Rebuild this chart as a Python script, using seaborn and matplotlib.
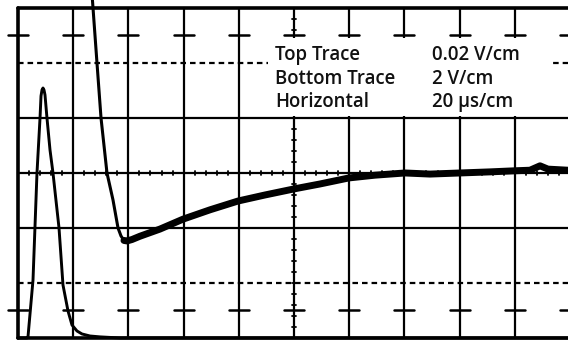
import numpy as np
import pandas as pd
import matplotlib
matplotlib.use("Agg")
import matplotlib.pyplot as plt
import seaborn as sns

# ---- data (graticule division units) ----
top_x = [1.322, 1.359, 1.431, 1.504, 1.612, 1.721, 1.812, 1.866, 1.920, 1.975, 2.065,
         2.210, 2.572, 2.989, 3.478, 3.986, 4.475, 5.000, 5.471, 5.996, 6.467, 7.011,
         7.464, 8.007, 8.551, 9.004, 9.275, 9.457, 9.601, 9.964]
top_y = [3.51, 3.00, 2.00, 1.00, 0.00, -0.49, -1.00, -1.145, -1.227, -1.236, -1.21,
         -1.15, -1.02, -0.84, -0.67, -0.51, -0.40, -0.29, -0.20, -0.09, -0.04, 0.00,
         -0.02, 0.00, 0.02, 0.04, 0.05, 0.13, 0.07, 0.05]

bot_x = [0.0, 0.163, 0.181, 0.272, 0.344, 0.399, 0.417, 0.435, 0.453, 0.471, 0.489,
         0.525, 0.580, 0.634, 0.743, 0.815, 0.906, 0.978, 1.069, 1.159, 1.304, 1.486,
         1.848, 9.964]
bot_y = [-3.0, -3.0, -2.98, -1.945, 0.0, 1.0, 1.40, 1.51, 1.545, 1.51, 1.42,
         1.0, 0.418, 0.0, -1.0, -2.036, -2.509, -2.764, -2.873, -2.927, -2.964, -2.98,
         -3.0, -3.0]

labels_left = ["Top Trace", "Bottom Trace", "Horizontal"]
labels_right = ["0.02 V/cm", "2 V/cm", "20 \u00b5s/cm"]

# ---- figure ----
sns.set_style("white")
plt.rcParams['font.family'] = ['Open Sans', 'DejaVu Sans']
fig = plt.figure(figsize=(5.68, 3.41), dpi=100)
ax = fig.add_axes([0, 0, 1, 1])

k = "black"
# graticule
for xv in range(0, 11):
    ax.plot([xv, xv], [-3, 3], color=k, lw=2.6 if xv == 0 else 1.6, zorder=1)
for yv in [-3, -1, 0, 1, 3]:
    ax.plot([0, 10], [yv, yv], color=k, lw=2.6 if abs(yv) == 3 else 1.6, zorder=1)
for yv in [-2, 2]:
    ax.plot([0, 10], [yv, yv], color=k, lw=1.6, ls=(0, (2.5, 1.8)), zorder=1)
for yv in [-2.5, 2.5]:
    for xv in range(0, 11):
        ax.plot([xv - 0.18, xv + 0.18], [yv, yv], color=k, lw=1.8, zorder=1)
for yv in np.arange(-3, 3.01, 0.2):
    ax.plot([4.96, 5.04], [yv, yv], color=k, lw=1.3, zorder=1)
for xv in np.arange(0, 10.01, 0.2):
    ax.plot([xv, xv], [-0.04, 0.04], color=k, lw=1.3, zorder=1)

# traces
imin = int(np.argmin(top_y))
df_fall = pd.DataFrame({"x": top_x[:imin + 1], "y": top_y[:imin + 1]})
df_ramp = pd.DataFrame({"x": top_x[imin - 1:], "y": top_y[imin - 1:]})
df_bot = pd.DataFrame({"x": bot_x, "y": bot_y})
sns.lineplot(data=df_fall, x="x", y="y", sort=False, estimator=None, ax=ax,
             color=k, lw=2.2, solid_capstyle="round", solid_joinstyle="round", zorder=3)
sns.lineplot(data=df_ramp, x="x", y="y", sort=False, estimator=None, ax=ax,
             color=k, lw=5.0, solid_capstyle="round", solid_joinstyle="round", zorder=3)
sns.lineplot(data=df_bot, x="x", y="y", sort=False, estimator=None, ax=ax,
             color=k, lw=2.1, solid_capstyle="round", solid_joinstyle="round", zorder=3)
ax.set_xlim(-0.326, 9.964)
ax.set_ylim(-3.055, 3.145)
ax.axis("off")

# info box
ax.add_patch(plt.Rectangle((4.53, 1.04), 9.64 - 4.53, 2.45 - 1.04,
                           facecolor="white", edgecolor="none", zorder=4))
ys = [2.055, 1.618, 1.2]
for yv, l, r in zip(ys, labels_left, labels_right):
    ax.text(4.656, yv, l, fontsize=13.4, fontweight=600, va="baseline", ha="left",
            color="#111111", zorder=5)
    ax.text(7.5, yv, r, fontsize=13.4, fontweight=600, va="baseline", ha="left",
            color="#111111", zorder=5)

fig.savefig("out.png", dpi=100)
